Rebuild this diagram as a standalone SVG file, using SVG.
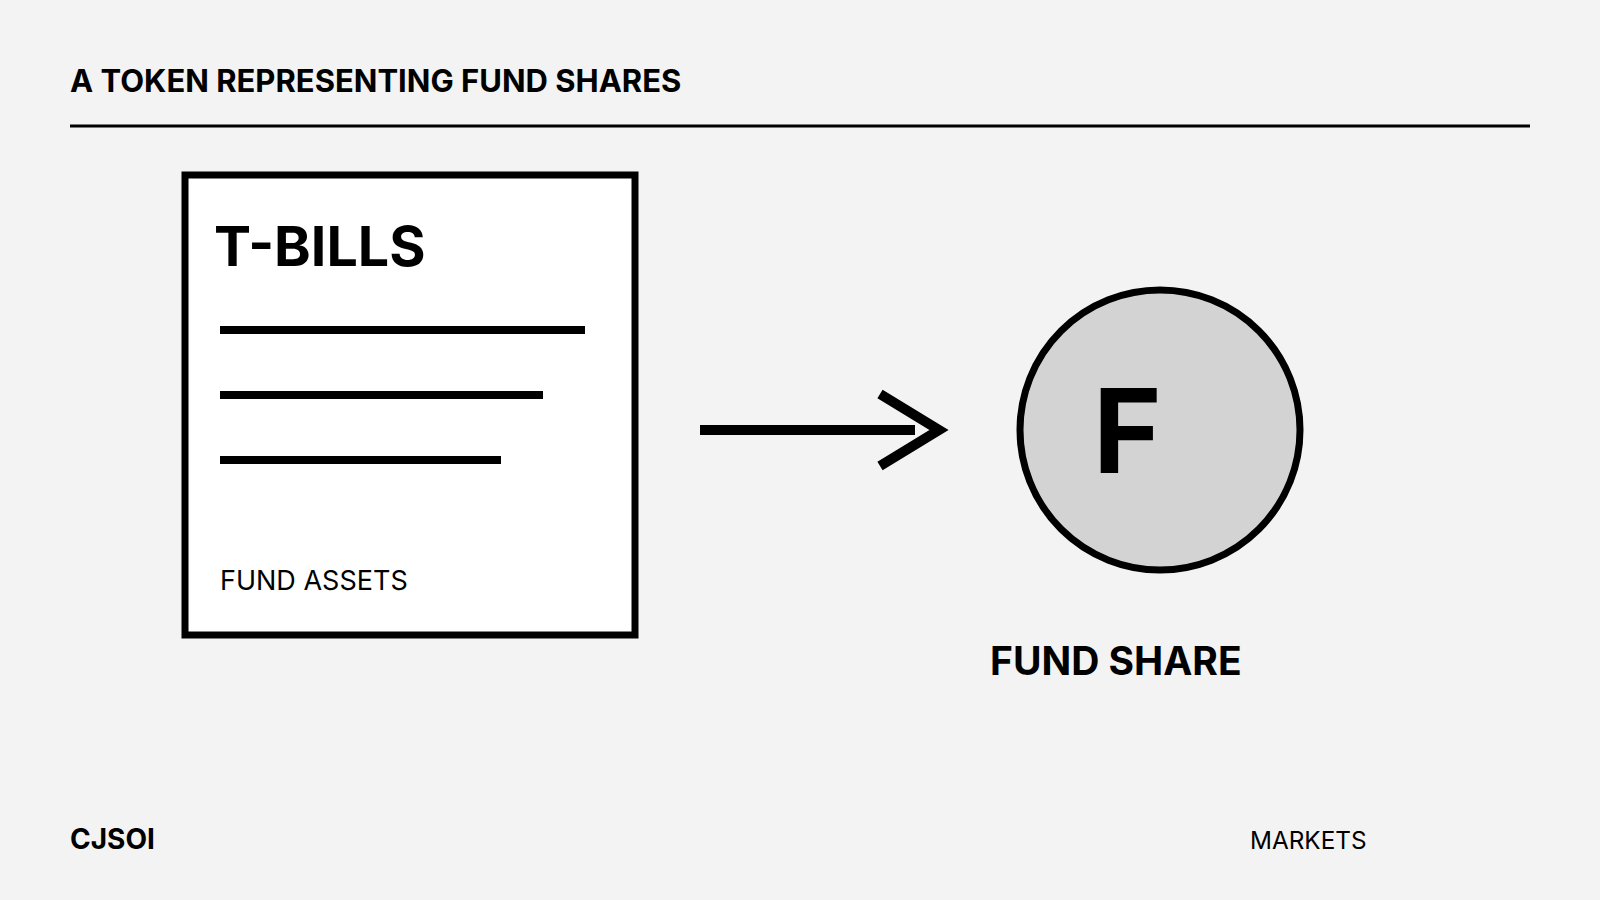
<svg xmlns="http://www.w3.org/2000/svg" width="1600" height="900" viewBox="0 0 1600 900">
<style>
text { font-family: Inter, "Noto Sans", "Liberation Sans", sans-serif; fill: #000; }
.b { font-weight: 700; }
.r { font-weight: 400; }
.ink { stroke: #000; fill: none; }
</style>
<rect x="0" y="0" width="1600" height="900" fill="#f3f3f3"/>
<g id="header">
  <text class="b" x="70" y="92" font-size="31">A TOKEN REPRESENTING FUND SHARES</text>
  <line class="ink" x1="70" y1="126" x2="1530" y2="126" stroke-width="3"/>
</g>
<g id="tbills">
  <rect x="185" y="175" width="450" height="460" fill="#fff" stroke="#000" stroke-width="7"/>
  <text class="b" x="214" y="266" font-size="55.5">T-BILLS</text>
  <line class="ink" x1="220" y1="330" x2="585" y2="330" stroke-width="8"/>
  <line class="ink" x1="220" y1="395" x2="543" y2="395" stroke-width="8"/>
  <line class="ink" x1="220" y1="460" x2="501" y2="460" stroke-width="8"/>
  <text class="r" x="220" y="590" font-size="27">FUND ASSETS</text>
</g>
<g id="connectors">
  <line class="ink" x1="700" y1="430" x2="915" y2="430" stroke-width="10"/>
  <polyline class="ink" points="880,394 939,430 880,466" stroke-width="10" stroke-linejoin="miter"/>
</g>
<g id="fundshare">
  <circle cx="1160" cy="430" r="140" fill="#d3d3d3" stroke="#000" stroke-width="7"/>
  <text class="b" x="1093" y="473" font-size="117">F</text>
  <text class="b" x="990" y="675" font-size="39">FUND SHARE</text>
</g>
<g id="footer">
  <text class="b" x="70" y="849" font-size="28">CJSOI</text>
  <text class="r" x="1250" y="849" font-size="24.3">MARKETS</text>
</g>
</svg>
